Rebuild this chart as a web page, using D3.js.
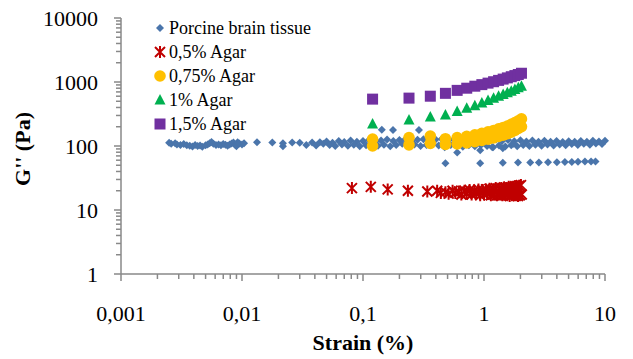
<!DOCTYPE html>
<html>
<head>
<meta charset="utf-8">
<script src="https://cdn.jsdelivr.net/npm/d3@7"></script>
<style>
  body { margin: 0; background: #fff; }
</style>
</head>
<body>
<div id="chart"></div>
<script>
// Width and height
var w = 633;
var h = 359;
var serif = "'Liberation Serif', 'DejaVu Serif', serif";

// Series names
var seriesNames = ["Porcine brain tissue", "0,5% Agar", "0,75% Agar", "1% Agar", "1,5% Agar"];

// Porcine brain tissue: [strain %, G'' Pa]
var brainLow = [[0.0025,112],[0.0026,108],[0.0028,110],[0.0029,106],[0.0031,104],[0.0033,107],[0.0035,103],
  [0.0037,101],[0.0039,98],[0.0041,104],[0.0043,100],[0.0045,102],[0.0047,97],[0.0050,103],[0.0052,106],
  [0.0054,110],[0.0056,115],[0.0058,108],[0.0061,104],[0.0064,106],[0.0067,103],[0.0070,107],[0.0073,105],
  [0.0076,101],[0.0079,106],[0.0082,109],[0.0085,113],[0.0088,104],[0.0090,99],[0.0092,114],[0.0095,109],
  [0.0100,106],[0.0104,110]];
var brainMid = [[0.0133,114],[0.0178,113],[0.0218,99],[0.0218,110],[0.026,113],[0.030,112],[0.034,104],
  [0.038,113],[0.041,102],[0.044,114],[0.047,108]];
var brainUpper = [[0.05,118],[0.056,112],[0.063,120],[0.07,115],[0.079,122],[0.089,116],[0.1,120],[0.112,124],
  [0.126,118],[0.141,122],[0.158,126],[0.178,120],[0.2,124],[0.224,127],[0.251,121],[0.282,125],[0.316,128],
  [0.355,122],[0.398,126],[0.447,129],[0.501,123],[0.562,126],[0.631,130],[0.708,124],[0.794,127],[0.891,121],
  [1,125],[1.12,122],[1.26,126],[1.41,120],[1.58,124],[1.78,119],[2,123],[2.24,118],[2.51,122],[2.82,117],
  [3.16,121],[3.55,116],[3.98,120],[4.47,115],[5.01,119],[5.62,116],[6.31,120],[7.08,117],[7.94,121],[8.91,118],[10,121]];
var brainLower = [[0.053,104],[0.059,100],[0.067,106],[0.075,101],[0.084,105],[0.094,99],[0.106,103],[0.119,107],
  [0.133,101],[0.149,105],[0.168,99],[0.188,104],[0.211,108],[0.237,102],[0.266,106],[0.299,100],[0.335,104],
  [0.376,108],[0.422,102],[0.473,96],[0.531,104],[0.596,100],[0.668,97],[0.75,103],[0.841,99],[0.944,104],
  [1.06,100],[1.19,96],[1.33,102],[1.5,98],[1.68,103],[1.88,99],[2.11,104],[2.37,100],[2.66,105],[2.99,101],
  [3.35,106],[3.76,102],[4.22,106],[4.73,103],[5.31,107],[5.96,104],[6.68,108],[7.5,105],[8.41,109],[9.44,107]];
var brainTop = [[0.143,180],[0.177,178],[0.29,178]];
var brainDip = [[0.6,79],[0.93,86],[1.17,96],[1.43,92],[1.75,108]];
var brainLowBand = [[0.48,54],[0.93,54],[1.43,54.5],[1.91,55],[2.41,55],[2.84,55],[3.38,55.5],[4.0,55.5],
  [4.66,56],[5.32,56],[5.98,56.5],[6.83,57],[7.67,57],[8.35,57.5]];

// 0,5% Agar
var agar05StrainA = [0.081,0.116,0.16,0.235,0.34,0.41,0.48,0.55,0.62,0.69,0.76,0.83,0.90,0.97,1.04,1.11,1.18,
  1.25,1.32,1.39,1.46,1.53,1.60,1.67,1.74,1.81,1.88,1.95,2.02];
var agar05GA = [22,23,21,20,19.5,20,19,20,19.5,20,20.5,20,21,20.5,21,21.5,21,22,21.5,22,22.5,22,23,22.5,23,23.5,23,24,24.5];
var agar05StrainB = [0.44,0.51,0.58,0.65,0.72,0.79,0.86,0.93,1.00,1.07,1.14,1.21,1.28,1.35,1.42,1.49,1.56,1.63,
  1.70,1.77,1.84,1.91,1.98,2.05];
var agar05GB = [18.5,18,18.5,17.5,18,17.5,18,17,17.5,18,17,17.5,17,17.5,17,17.5,17,16.5,17,17.5,17,16.5,17,17.5];

// shared strain steps of the other agar gels
var agarStrain = [0.12,0.24,0.36,0.48,0.60,0.72,0.84,0.96,1.08,1.20,1.32,1.44,1.56,1.68,1.80,1.92,2.04];
var agar075GA = [128,135,143,130,135,142,150,158,166,175,185,195,205,218,232,248,265];
var agar075GB = [100,104,110,106,108,112,117,122,128,134,141,148,156,165,175,188,200];
var agar1G = [220,255,285,305,345,390,425,470,515,555,600,640,680,720,765,810,860];
var agar15G = [540,560,600,665,740,800,860,910,960,1010,1060,1110,1160,1210,1260,1310,1370];

// Tick labels
var xTicks = [0.001, 0.01, 0.1, 1, 10];
var xTickLabels = ["0,001", "0,01", "0,1", "1", "10"];
var yTicks = [1, 10, 100, 1000, 10000];
var yTickLabels = ["1", "10", "100", "1000", "10000"];

var colors = ["#4A75AB", "#C00000", "#FFC000", "#00B050", "#7030A0"];

function zip(xs, ys) {
  return xs.map(function(d, i) { return [d, ys[i]]; });
}

var series = [
  { name: seriesNames[0], shape: "diamond", data: [].concat(brainLow, brainMid, brainUpper, brainLower, brainTop, brainDip, brainLowBand) },
  { name: seriesNames[1], shape: "star", data: zip(agar05StrainA, agar05GA).concat(zip(agar05StrainB, agar05GB)) },
  { name: seriesNames[2], shape: "circle", data: zip(agarStrain, agar075GA).concat(zip(agarStrain, agar075GB)) },
  { name: seriesNames[3], shape: "triangle", data: zip(agarStrain, agar1G) },
  { name: seriesNames[4], shape: "square", data: zip(agarStrain, agar15G) }
];

// Scales
var x = d3.scaleLog().domain([0.001, 10]).range([121, 605]);
var y = d3.scaleLog().domain([1, 10000]).range([274, 18]);

var svg = d3.select("#chart")
  .append("svg")
  .attr("width", w)
  .attr("height", h)
  .attr("font-family", serif);

var axisColor = "#898989";

// minor ticks at 2..9 of every decade
function minorTicks(domain) {
  var out = [];
  for (var p = Math.log10(domain[0]); p < Math.log10(domain[1]); p++) {
    for (var k = 2; k <= 9; k++) out.push(k * Math.pow(10, p));
  }
  return out;
}

var xAxisG = svg.append("g");
xAxisG.selectAll("line.minor")
  .data(minorTicks(x.domain()))
  .enter().append("line")
  .attr("x1", function(d) { return x(d); })
  .attr("x2", function(d) { return x(d); })
  .attr("y1", 274).attr("y2", 279)
  .style("stroke", axisColor).style("stroke-width", 1.5);
xAxisG.selectAll("line.major")
  .data(xTicks)
  .enter().append("line")
  .attr("x1", function(d) { return x(d); })
  .attr("x2", function(d) { return x(d); })
  .attr("y1", 274).attr("y2", 281)
  .style("stroke", axisColor).style("stroke-width", 1.5);
xAxisG.append("line")
  .attr("x1", 121).attr("x2", 605).attr("y1", 274).attr("y2", 274)
  .style("stroke", axisColor).style("stroke-width", 1.5);
xAxisG.selectAll("text")
  .data(xTicks)
  .enter().append("text")
  .attr("x", function(d) { return x(d); })
  .attr("y", 321)
  .attr("text-anchor", "middle")
  .style("font-family", serif)
  .style("font-size", "22px")
  .text(function(d, i) { return xTickLabels[i]; });

var yAxisG = svg.append("g");
yAxisG.selectAll("line.minor")
  .data(minorTicks(y.domain()))
  .enter().append("line")
  .attr("x1", 116).attr("x2", 121)
  .attr("y1", function(d) { return y(d); })
  .attr("y2", function(d) { return y(d); })
  .style("stroke", axisColor).style("stroke-width", 1.5);
yAxisG.selectAll("line.major")
  .data(yTicks)
  .enter().append("line")
  .attr("x1", 114).attr("x2", 121)
  .attr("y1", function(d) { return y(d); })
  .attr("y2", function(d) { return y(d); })
  .style("stroke", axisColor).style("stroke-width", 1.5);
yAxisG.append("line")
  .attr("x1", 121).attr("x2", 121).attr("y1", 18).attr("y2", 274)
  .style("stroke", axisColor).style("stroke-width", 1.5);
yAxisG.selectAll("text")
  .data(yTicks)
  .enter().append("text")
  .attr("x", 98)
  .attr("y", function(d) { return y(d) + 8; })
  .attr("text-anchor", "end")
  .style("font-family", serif)
  .style("font-size", "22px")
  .text(function(d, i) { return yTickLabels[i]; });

// Axis titles
svg.append("text")
  .attr("x", 363).attr("y", 350)
  .attr("text-anchor", "middle")
  .style("font-family", serif)
  .style("font-size", "22px").style("font-weight", "bold")
  .text("Strain (%)");
svg.append("text")
  .attr("transform", "translate(30,149) rotate(-90)")
  .attr("text-anchor", "middle")
  .style("font-family", serif)
  .style("font-size", "22px").style("font-weight", "bold")
  .text("G'' (Pa)");

// Marker drawing
function drawMarker(g, shape, color) {
  if (shape === "diamond") {
    g.append("path").attr("d", "M0,-4L4,0L0,4L-4,0Z").style("fill", color);
  } else if (shape === "star") {
    g.append("path").attr("d", "M-5,-5L5,5M-5,5L5,-5M0,-6L0,6")
      .style("stroke", color).style("stroke-width", 2).style("fill", "none");
  } else if (shape === "circle") {
    g.append("circle").attr("r", 5.8).style("fill", color);
  } else if (shape === "triangle") {
    g.append("path").attr("d", "M0,-6L5.5,4.5L-5.5,4.5Z").style("fill", color);
  } else if (shape === "square") {
    g.append("rect").attr("x", -5.5).attr("y", -5.5).attr("width", 11).attr("height", 11).style("fill", color);
  }
}

// Points
series.forEach(function(s, i) {
  svg.append("g").selectAll("g")
    .data(s.data)
    .enter().append("g")
    .attr("transform", function(d) { return "translate(" + x(d[0]) + "," + y(d[1]) + ")"; })
    .each(function() { drawMarker(d3.select(this), s.shape, colors[i]); });
});

// Legend
var legend = svg.append("g");
series.forEach(function(s, i) {
  var ly = 28 + i * 24;
  var m = legend.append("g").attr("transform", "translate(160," + ly + ")");
  drawMarker(m, s.shape, colors[i]);
  legend.append("text")
    .attr("x", 169).attr("y", ly + 6)
    .style("font-family", serif)
    .style("font-size", "18px")
    .text(s.name);
});
</script>
</body>
</html>
